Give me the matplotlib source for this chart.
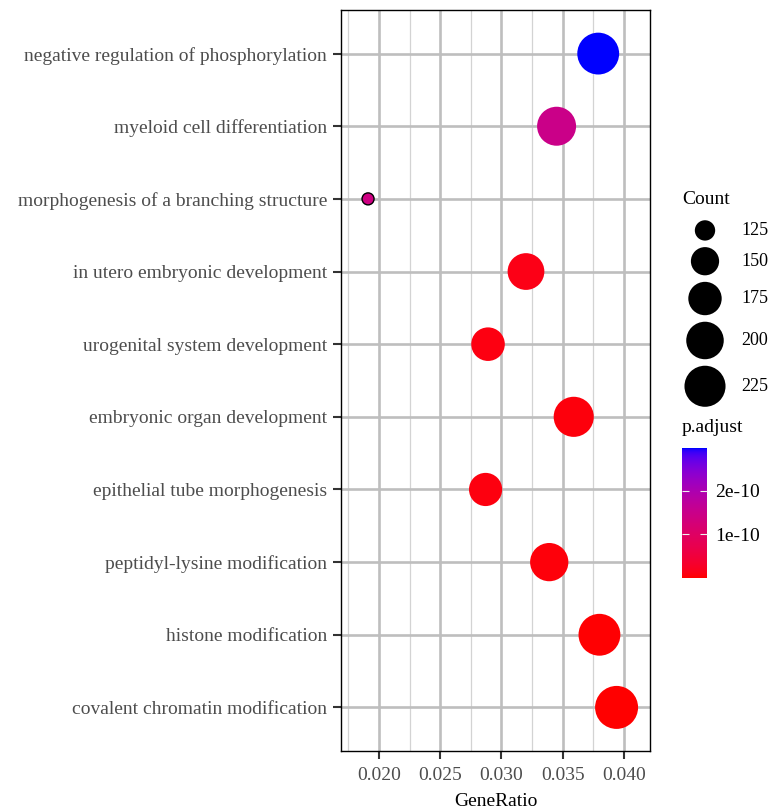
import numpy as np
import matplotlib
matplotlib.use('Agg')
import matplotlib.pyplot as plt
from matplotlib.colors import ListedColormap, Normalize
from matplotlib.cm import ScalarMappable

plt.rcParams['font.family'] = ['Liberation Serif', 'DejaVu Serif']

# GO terms, top to bottom as shown
terms = ["negative regulation of phosphorylation",
         "myeloid cell differentiation",
         "morphogenesis of a branching structure",
         "in utero embryonic development",
         "urogenital system development",
         "embryonic organ development",
         "epithelial tube morphogenesis",
         "peptidyl-lysine modification",
         "histone modification",
         "covalent chromatin modification"]
gene_ratio = [0.0379, 0.0345, 0.0191, 0.0320, 0.0289, 0.0359, 0.0287, 0.0339, 0.0380, 0.0394]
counts = [231, 210, 116, 195, 176, 218, 174, 205, 231, 240]
p_adjust = [2.98e-10, 1.48e-10, 1.40e-10, 1.2e-11, 9e-12, 6e-12, 8e-12, 5e-12, 2e-12, 1e-13]

legend_counts = [125, 150, 175, 200, 225]
x_ticks = [0.020, 0.025, 0.030, 0.035, 0.040]
cbar_ticks = [1e-10, 2e-10]
cbar_labels = ["1e-10", "2e-10"]

W, H = 771, 810
tick_grey = "#4D4D4D"


# red -> blue gradient interpolated in Lab space (like ggplot's scale)
def _to_lab(rgb):
    c = np.asarray(rgb, float)
    lin = np.where(c <= 0.04045, c / 12.92, ((c + 0.055) / 1.055) ** 2.4)
    M = np.array([[0.4124, 0.3576, 0.1805],
                  [0.2126, 0.7152, 0.0722],
                  [0.0193, 0.1192, 0.9505]])
    xyz = M @ lin / np.array([0.95047, 1.0, 1.08883])
    f = np.where(xyz > 0.008856, np.cbrt(xyz), 7.787 * xyz + 16 / 116)
    return np.array([116 * f[1] - 16, 500 * (f[0] - f[1]), 200 * (f[1] - f[2])])


def _from_lab(lab):
    L, a, b = lab
    fy = (L + 16) / 116
    fx = fy + a / 500
    fz = fy - b / 200
    f = np.array([fx, fy, fz])
    xyz = np.where(f ** 3 > 0.008856, f ** 3, (f - 16 / 116) / 7.787)
    xyz = xyz * np.array([0.95047, 1.0, 1.08883])
    Minv = np.array([[3.2406, -1.5372, -0.4986],
                     [-0.9689, 1.8758, 0.0415],
                     [0.0557, -0.2040, 1.0570]])
    lin = np.clip(Minv @ xyz, 0, 1)
    c = np.where(lin <= 0.0031308, 12.92 * lin, 1.055 * lin ** (1 / 2.4) - 0.055)
    return np.clip(c, 0, 1)


lab_lo, lab_hi = _to_lab([1, 0, 0]), _to_lab([0, 0, 1])
cmap = ListedColormap([_from_lab(lab_lo + t * (lab_hi - lab_lo)) for t in np.linspace(0, 1, 256)])
norm = Normalize(vmin=min(p_adjust), vmax=max(p_adjust))

# point size: diameter grows with sqrt of rescaled count
cmin, cmax = min(counts), max(counts)
d_min, d_max = 12.0, 43.0


def diam_px(c):
    return d_min + (d_max - d_min) * np.sqrt(np.clip((np.asarray(c, float) - cmin) / (cmax - cmin), 0, None))


def area_pt(c):
    return (diam_px(c) * 72 / 100) ** 2


fig = plt.figure(figsize=(W / 100, H / 100), dpi=100)
ax = fig.add_axes([341 / W, 1 - 751 / H, (650 - 341) / W, (751 - 10) / H])

ypos = np.arange(len(terms))[::-1] + 1
edges = ["black" if c == cmin else "none" for c in counts]
ax.scatter(gene_ratio, ypos, s=area_pt(counts), c=p_adjust, cmap=cmap, norm=norm,
           edgecolors=edges, linewidths=1.0, zorder=3)

ax.set_xlim(0.01689, 0.04213)
ax.set_ylim(0.4, len(terms) + 0.6)
ax.set_xticks(x_ticks)
ax.set_xticklabels(["%.3f" % v for v in x_ticks])
ax.set_xticks([v - 0.0025 for v in x_ticks], minor=True)
ax.set_yticks(ypos)
ax.set_yticklabels(terms)
ax.grid(which='major', color='#BEBEBE', linewidth=1.9, zorder=0)
ax.grid(which='minor', axis='x', color='#D3D3D3', linewidth=0.9, zorder=0)
ax.set_axisbelow(True)
ax.tick_params(which='major', length=5.8, width=1.5, color='#333333',
               labelsize=14, labelcolor=tick_grey)
ax.tick_params(axis='y', pad=4.3)
ax.tick_params(axis='x', pad=5.5)
ax.tick_params(which='minor', length=0)
for sp in ax.spines.values():
    sp.set_linewidth(1.0)
    sp.set_color('black')
ax.set_xlabel("GeneRatio", fontsize=14, labelpad=7)

# size legend drawn in its own pixel-space axes
lax = fig.add_axes([660 / W, 1 - 410 / H, 111 / W, 230 / H])
lax.set_xlim(660, 771)
lax.set_ylim(410, 180)
lax.axis('off')
fig.text(682 / W, 1 - 200 / H, "Count", fontsize=14, va='center', ha='left')
y = 217.0
centers = []
for c in legend_counts:
    h = diam_px(c) + 6.5
    centers.append(y + h / 2)
    y += h
lax.scatter([705] * len(legend_counts), centers, s=area_pt(legend_counts), c='black',
            edgecolors='none')
for c, yc in zip(legend_counts, centers):
    lax.text(741, yc, str(c), fontsize=13, va='center', ha='left', color='black')

# colour bar
fig.text(682 / W, 1 - 428 / H, "p.adjust", fontsize=14, va='center', ha='left')
cax = fig.add_axes([682 / W, 1 - 578 / H, 25 / W, 130 / H])
cb = fig.colorbar(ScalarMappable(norm=norm, cmap=cmap), cax=cax)
cb.outline.set_visible(False)
cb.set_ticks(cbar_ticks)
cb.set_ticklabels(cbar_labels)
cax.tick_params(axis='y', direction='in', length=5, width=0.8, color='#F0F0F0',
                left=True, right=True, labelsize=14, labelcolor='black', pad=6)

fig.savefig("out.png", dpi=100)
